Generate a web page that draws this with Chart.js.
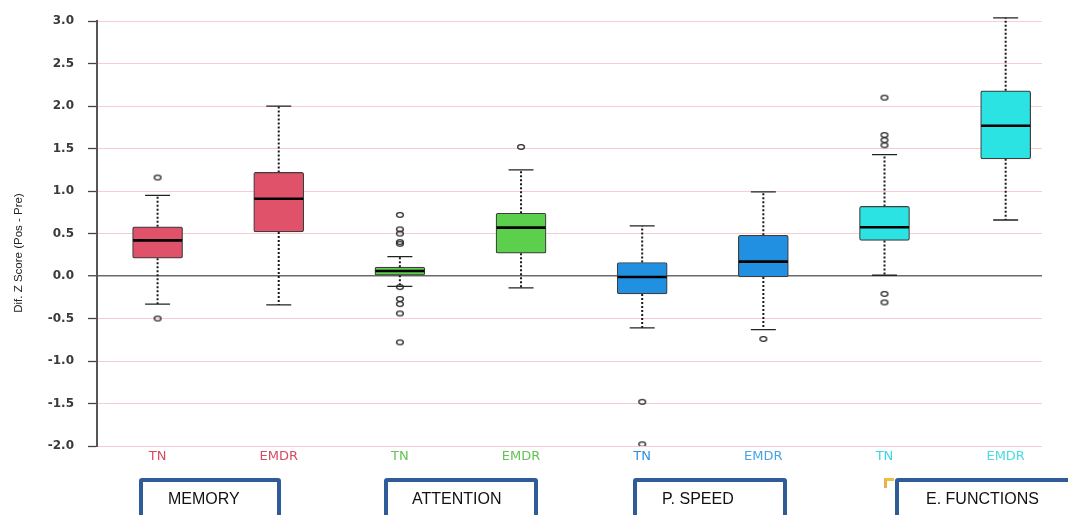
<!DOCTYPE html>
<html>
<head>
<meta charset="utf-8">
<script src="https://cdn.jsdelivr.net/npm/chart.js@4"></script>
<style>
  html, body { margin: 0; padding: 0; background: #fff; }
  #wrap { position: relative; width: 1068px; height: 515px; overflow: hidden; }
  canvas { position: absolute; left: 0; top: 0; }
  .dom { position: absolute; top: 478px; height: 48px; box-sizing: border-box;
         border: 4px solid #2f5c99; border-radius: 3px; background: #fff;
         font-family: Arial, "Liberation Sans", sans-serif; font-size: 16px; color: #111; }
  .dom span { position: absolute; top: 8px; white-space: nowrap; }
  .mark { position: absolute; left: 884px; top: 478px; width: 10px; height: 10px;
          border-top: 3px solid #f0c040; border-left: 3px solid #e8b050; box-sizing: border-box; }
</style>
</head>
<body>
<div id="wrap">
  <canvas id="c" width="1068" height="515"></canvas>
</div>
<script>
// ---- data ----
const categories = ['TN', 'EMDR', 'TN', 'EMDR', 'TN', 'EMDR', 'TN', 'EMDR'];
const domains = ['MEMORY', 'ATTENTION', 'P. SPEED', 'E. FUNCTIONS'];
const xPositions = [1, 2, 3, 4, 5, 6, 7, 8];
const q1 = [0.21, 0.52, 0.01, 0.27, -0.21, -0.01, 0.42, 1.38];
const median = [0.42, 0.91, 0.06, 0.57, -0.01, 0.17, 0.575, 1.77];
const q3 = [0.58, 1.22, 0.105, 0.74, 0.16, 0.48, 0.82, 2.18];
const whiskerLow = [-0.33, -0.34, -0.12, -0.14, -0.61, -0.63, 0.01, 0.66];
const whiskerHigh = [0.95, 2.0, 0.23, 1.25, 0.59, 0.99, 1.43, 3.04];
const outliers = [
  [1.16, -0.5],
  [],
  [0.72, 0.55, 0.50, 0.40, 0.38, -0.13, -0.27, -0.33, -0.44, -0.78],
  [1.52],
  [-1.48, -1.98],
  [-0.74],
  [2.10, 1.66, 1.60, 1.54, -0.21, -0.31],
  []
];
const yMin = -2, yMax = 3, yStep = 0.5;
const yTitle = 'Dif. Z Score (Pos - Pre)';

// ---- styles ----
const fillColors = ['#e0526a', '#e0526a', '#5ccf4c', '#5ccf4c', '#2290e0', '#2290e0', '#2ce3e3', '#2ce3e3'];
const labelColors = ['#d84a62', '#d84a62', '#62c455', '#62c455', '#2d8fdc', '#48a2e4', '#38d7de', '#48dde0'];
const domainBoxes = [
  { left: 139, width: 142, text: 25 },
  { left: 384, width: 154, text: 24 },
  { left: 633, width: 154, text: 25 },
  { left: 895, width: 190, text: 27 }
];

const wrap = document.getElementById('wrap');
domains.forEach((d, i) => {
  const b = document.createElement('div');
  b.className = 'dom';
  b.style.left = domainBoxes[i].left + 'px';
  b.style.width = domainBoxes[i].width + 'px';
  const s = document.createElement('span');
  s.style.left = domainBoxes[i].text + 'px';
  s.textContent = d;
  b.appendChild(s);
  wrap.appendChild(b);
});
const mk = document.createElement('div'); mk.className = 'mark'; wrap.appendChild(mk);

// open elliptical outlier marker
const marker = document.createElement('canvas');
marker.width = 10; marker.height = 8;
(() => {
  const m = marker.getContext('2d');
  m.strokeStyle = '#2a2a2a';
  m.lineWidth = 1.3;
  m.beginPath();
  m.ellipse(5, 4, 3.4, 2.3, 0, 0, Math.PI * 2);
  m.stroke();
})();

const boxPlugin = {
  id: 'boxParts',
  beforeDatasetsDraw(chart) {
    const { ctx, scales: { x, y } } = chart;
    ctx.save();
    xPositions.forEach((xv, i) => {
      const px = x.getPixelForValue(xv);
      ctx.strokeStyle = '#1a1a1a';
      ctx.lineWidth = 2;
      ctx.setLineDash([2, 2]);
      ctx.beginPath();
      ctx.moveTo(px, y.getPixelForValue(q3[i]));
      ctx.lineTo(px, y.getPixelForValue(whiskerHigh[i]));
      ctx.moveTo(px, y.getPixelForValue(q1[i]));
      ctx.lineTo(px, y.getPixelForValue(whiskerLow[i]));
      ctx.stroke();
      ctx.setLineDash([]);
      ctx.lineWidth = 1.3;
      ctx.strokeStyle = '#222';
      ctx.beginPath();
      [whiskerHigh[i], whiskerLow[i]].forEach(v => {
        const py = y.getPixelForValue(v);
        ctx.moveTo(px - 12.5, py);
        ctx.lineTo(px + 12.5, py);
      });
      ctx.stroke();
    });
    ctx.restore();
  },
  afterDatasetsDraw(chart) {
    const { ctx, scales: { x, y } } = chart;
    ctx.save();
    ctx.strokeStyle = '#000';
    ctx.lineWidth = 2.6;
    xPositions.forEach((xv, i) => {
      const px = x.getPixelForValue(xv);
      const py = y.getPixelForValue(median[i]);
      ctx.beginPath();
      ctx.moveTo(px - 24.5, py);
      ctx.lineTo(px + 24.5, py);
      ctx.stroke();
    });
    ctx.restore();
  },
  afterDraw(chart) {
    const { ctx } = chart;
    ctx.save();
    ctx.translate(19, 253);
    ctx.rotate(-Math.PI / 2);
    ctx.font = '11.5px Arial, "Liberation Sans", sans-serif';
    ctx.fillStyle = '#222';
    ctx.textAlign = 'center';
    ctx.textBaseline = 'middle';
    ctx.fillText(yTitle, 0, 0);
    ctx.restore();
  }
};

const outlierPoints = [];
outliers.forEach((arr, i) => arr.forEach(v => outlierPoints.push({ x: xPositions[i], y: v })));

new Chart(document.getElementById('c'), {
  type: 'bar',
  data: {
    datasets: [
      {
        type: 'bar',
        data: xPositions.map((xv, i) => ({ x: xv, y: [q1[i], q3[i]] })),
        backgroundColor: fillColors,
        borderColor: '#3e3e3e',
        borderWidth: 1.2,
        borderSkipped: false,
        borderRadius: 2,
        barThickness: 50,
        order: 2
      },
      {
        type: 'scatter',
        data: outlierPoints,
        pointStyle: marker,
        pointRadius: 4,
        order: 1
      }
    ]
  },
  options: {
    responsive: false,
    animation: false,
    layout: { padding: { left: 0, top: 20, right: 26, bottom: 0 } },
    plugins: { legend: { display: false }, tooltip: { enabled: false } },
    scales: {
      x: {
        type: 'linear',
        min: 0.5,
        max: 8.3,
        offset: false,
        grid: { display: false, drawTicks: false, offset: false },
        border: { display: false },
        afterBuildTicks: axis => { axis.ticks = xPositions.map(v => ({ value: v })); },
        afterFit: axis => { axis.height = 69; },
        ticks: {
          autoSkip: false,
          maxRotation: 0,
          padding: 3,
          callback: v => categories[xPositions.indexOf(v)],
          color: c => labelColors[c.index],
          font: { family: '"DejaVu Sans", Arial, sans-serif', size: 13 }
        }
      },
      y: {
        min: yMin,
        max: yMax,
        afterFit: axis => { axis.width = 97; },
        border: { display: true, color: '#555', width: 2 },
        grid: {
          color: c => (c.tick && c.tick.value === 0 ? '#6a6a6a' : '#f8ccd5'),
          lineWidth: c => (c.tick && c.tick.value === 0 ? 1.5 : 1),
          tickColor: '#444',
          tickLength: 9,
          tickWidth: 1.3
        },
        ticks: {
          stepSize: yStep,
          padding: 14,
          color: '#3a3a3a',
          callback: v => Number(v).toFixed(1),
          font: { family: '"DejaVu Sans", Arial, sans-serif', size: 12, weight: 'bold' }
        }
      }
    }
  },
  plugins: [boxPlugin]
});
</script>
</body>
</html>
